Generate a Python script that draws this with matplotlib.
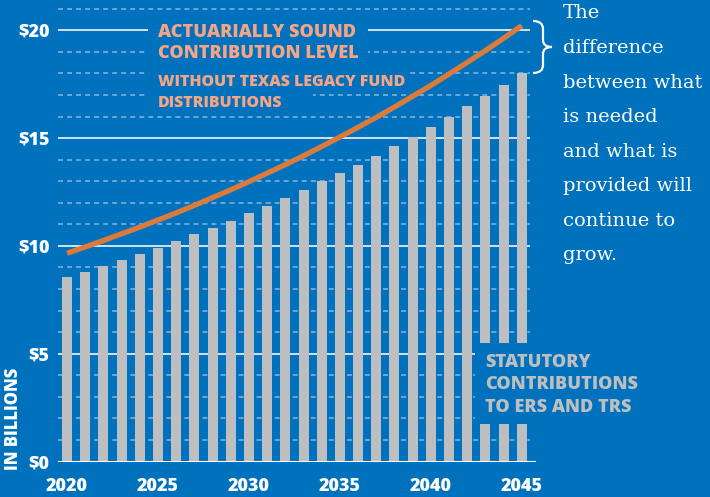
import matplotlib
matplotlib.use("Agg")
import matplotlib.pyplot as plt
from matplotlib.patches import Rectangle, PathPatch
from matplotlib.path import Path

# data (billions of dollars)
years = list(range(2020, 2046))
statutory = [8.56, 8.79, 9.07, 9.35, 9.62, 9.90, 10.23, 10.55, 10.83, 11.15,
             11.53, 11.85, 12.22, 12.59, 13.01, 13.38, 13.75, 14.17, 14.63, 15.05,
             15.51, 15.98, 16.49, 16.95, 17.46, 18.02]
actuarial = [9.66, 9.95, 10.25, 10.56, 10.87, 11.20, 11.53, 11.88, 12.24, 12.60,
             12.98, 13.37, 13.77, 14.18, 14.61, 15.05, 15.50, 15.96, 16.44, 16.94,
             17.44, 17.97, 18.51, 19.06, 19.63, 20.22]
ytick_vals = [0, 5, 10, 15, 20]
ytick_labels = ["$0", "$5", "$10", "$15", "$20"]
xtick_vals = [2020, 2025, 2030, 2035, 2040, 2045]
side_note = ["The", "difference", "between what", "is needed", "and what is",
             "provided will", "continue to", "grow."]

BG = "#0071bc"
BAR = "#bcbec0"
ORANGE = "#db7b3b"
SALMON = "#f5a585"
W, H = 710, 497
HEAVY = 800

plt.rcParams["lines.scale_dashes"] = False
plt.rcParams["font.family"] = ["Open Sans", "DejaVu Sans"]


def px(x, y):
    # pixel position (top-left origin) -> figure fraction
    return x / W, 1 - y / H


def draw_grid(ax, x0, x1):
    for v in range(1, 22):
        if v % 5 == 0:
            ax.hlines(v, x0, x1, colors="#e3edf7", linewidth=1.3, zorder=1)
        else:
            ax.hlines(v, x0, x1, colors="#78aad8", linewidth=1.3,
                      linestyles=[(0, (3.6, 2.9))], zorder=1)
    ax.hlines(0, x0, 2045.78, colors="white", linewidth=1.5, zorder=3)


def draw_brace(fig):
    pts = [(533, 21), (543, 21), (543, 29), (543, 40), (543, 47), (552, 47),
           (543, 47), (543, 54), (543, 65), (543, 73), (533, 73)]
    codes = [Path.MOVETO, Path.CURVE3, Path.CURVE3, Path.LINETO,
             Path.CURVE3, Path.CURVE3, Path.CURVE3, Path.CURVE3,
             Path.LINETO, Path.CURVE3, Path.CURVE3]
    path = Path([px(x, y) for x, y in pts], codes)
    fig.patches.append(PathPatch(path, transform=fig.transFigure, fill=False,
                                 edgecolor="white", linewidth=1.6))


if __name__ == "__main__":
    fig = plt.figure(figsize=(7.10, 4.97), dpi=100, facecolor=BG)
    ax = fig.add_axes([58 / W, 35.5 / H, 478 / W, 461.4 / H], facecolor=BG)
    ax.set_xlim(2019.505, 2045.78)
    ax.set_ylim(0, 21.4)
    for s in ax.spines.values():
        s.set_visible(False)

    draw_grid(ax, 2019.505, 2045.45)
    ax.bar(years, statutory, width=0.55, color=BAR, zorder=2)
    ax.plot(years, actuarial, color=ORANGE, linewidth=3.8,
            solid_capstyle="butt", zorder=3)

    # blue boxes that knock out grid lines / bars behind labels
    for (xa, xb, ya, yb) in [(2024.45, 2036.55, 18.45, 20.6),
                             (2024.45, 2038.69, 17.55, 18.4),
                             (2024.45, 2033.52, 16.6, 17.45),
                             (2042.43, 2046.5, 1.74, 5.5)]:
        ax.add_patch(Rectangle((xa, ya), xb - xa, yb - ya, facecolor=BG,
                               edgecolor="none", zorder=4, clip_on=False))

    ax.text(2024.98, 19.69, "ACTUARIALLY SOUND", color=SALMON, fontsize=13.1,
            fontweight=HEAVY, va="baseline", zorder=5)
    ax.text(2024.98, 18.71, "CONTRIBUTION LEVEL", color=SALMON, fontsize=13.1,
            fontweight=HEAVY, va="baseline", zorder=5)
    ax.text(2024.98, 17.41, "WITHOUT TEXAS LEGACY FUND", color=SALMON,
            fontsize=11.4, fontweight=HEAVY, va="baseline", zorder=5)
    ax.text(2024.98, 16.46, "DISTRIBUTIONS", color=SALMON, fontsize=11.4,
            fontweight=HEAVY, va="baseline", zorder=5)

    for i, t in enumerate(["STATUTORY", "CONTRIBUTIONS", "TO ERS AND TRS"]):
        ax.text(2042.98, 4.40 - i * 1.045, t, color=BAR, fontsize=13.1,
                fontweight=HEAVY, va="baseline", zorder=5, clip_on=False)

    ax.set_yticks(ytick_vals)
    ax.set_yticklabels(ytick_labels)
    ax.set_xticks(xtick_vals)
    ax.set_xticklabels([str(v) for v in xtick_vals])
    ax.tick_params(length=0, colors="white", labelsize=13)
    ax.tick_params(axis="y", pad=6)
    ax.tick_params(axis="x", pad=12)
    for lab in ax.get_xticklabels() + ax.get_yticklabels():
        lab.set_fontweight(HEAVY)

    fx, fy = px(14, 418.5)
    fig.text(fx, fy, "IN BILLIONS", rotation=90, color="white", fontsize=12,
             fontweight=HEAVY, ha="center", va="center")

    for i, line in enumerate(side_note):
        fx, fy = px(563, 18.3 + i * 34.6)
        fig.text(fx, fy, line, color="white", fontsize=14,
                 family=["DejaVu Serif"], va="baseline", ha="left")

    draw_brace(fig)
    fig.savefig("out.png", dpi=100, facecolor=BG)
